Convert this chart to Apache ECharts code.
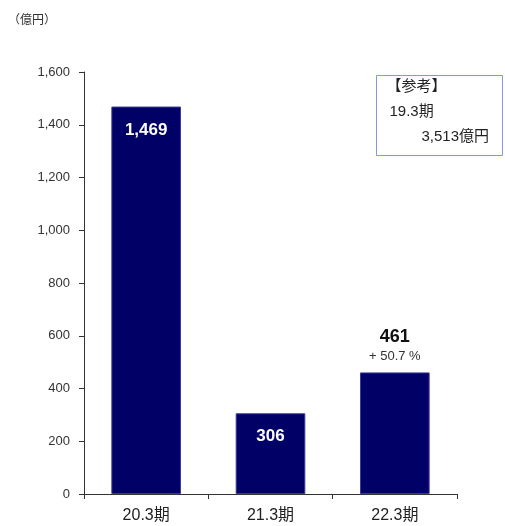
<!DOCTYPE html>
<html>
<head>
<meta charset="utf-8">
<script src="https://cdn.jsdelivr.net/npm/echarts@6/dist/echarts.min.js"></script>
<style>
  html, body { margin: 0; padding: 0; background: #ffffff; }
  #chart { width: 505px; height: 526px; }
</style>
</head>
<body>
<div id="chart"></div>
<script>
// Fiscal periods and values (億円)
const periods = ['20.3期', '21.3期', '22.3期'];
const values = [1469, 306, 461];
const growthNotes = ['', '', '+ 50.7 %'];
const yTicks = [0, 200, 400, 600, 800, 1000, 1200, 1400, 1600];
const referenceLines = ['【参考】', '19.3期', '3,513億円'];

const FONT = '"Liberation Sans", Arial, "Noto Sans CJK JP", sans-serif';
const fmt = v => v.toLocaleString('en-US');

const chart = echarts.init(document.getElementById('chart'), null, { renderer: 'canvas' });

const barData = values.map((v, i) => {
  const outside = i === values.length - 1;
  return {
    value: v,
    label: outside ? {
      show: true,
      position: 'top',
      distance: 7,
      formatter: () => '{v|' + fmt(v) + '}\n{g|' + growthNotes[i] + '}',
      rich: {
        v: { fontSize: 18, fontWeight: 'bold', color: '#111', fontFamily: FONT, lineHeight: 22 },
        g: { fontSize: 13, color: '#333', fontFamily: FONT, lineHeight: 17 }
      }
    } : {
      show: true,
      position: 'insideTop',
      distance: 15,
      formatter: () => fmt(v),
      fontSize: 17,
      fontWeight: 'bold',
      color: '#ffffff',
      fontFamily: FONT
    }
  };
});

chart.setOption({
  animation: false,
  backgroundColor: '#ffffff',
  grid: { left: 84, right: 48, top: 72, bottom: 32, containLabel: false },
  xAxis: {
    type: 'category',
    data: periods,
    axisLine: { show: true, lineStyle: { color: '#333', width: 1 } },
    axisTick: { show: true, alignWithLabel: false, length: 5, lineStyle: { color: '#333' } },
    axisLabel: { color: '#222', fontSize: 16, fontFamily: FONT, margin: 14 }
  },
  yAxis: {
    type: 'value',
    min: yTicks[0],
    max: yTicks[yTicks.length - 1],
    interval: yTicks[1] - yTicks[0],
    axisLine: { show: true, lineStyle: { color: '#333', width: 1 } },
    axisTick: { show: true, length: 5, lineStyle: { color: '#333' } },
    splitLine: { show: false },
    axisLabel: {
      color: '#333', fontSize: 13, fontFamily: FONT, margin: 14,
      formatter: v => fmt(v)
    }
  },
  series: [{
    type: 'bar',
    data: barData,
    barWidth: '56%',
    itemStyle: { color: '#000066', borderColor: '#3a3a9a', borderWidth: 1 }
  }],
  graphic: [
    {
      type: 'text',
      left: 8, top: 15,
      style: { text: '（億円）', font: '12px ' + FONT, fill: '#333' }
    },
    {
      type: 'group',
      left: 376, top: 75,
      children: [
        {
          type: 'rect',
          shape: { x: 0, y: 0, width: 126, height: 80 },
          style: { fill: '#ffffff', stroke: '#7f9be0', lineWidth: 1 }
        },
        {
          type: 'text', x: 10, y: 4,
          style: { text: referenceLines[0], font: '15px ' + FONT, fill: '#222' }
        },
        {
          type: 'text', x: 13, y: 29,
          style: { text: referenceLines[1], font: '15px ' + FONT, fill: '#222' }
        },
        {
          type: 'text', x: 45, y: 54,
          style: { text: referenceLines[2], font: '15px ' + FONT, fill: '#222' }
        }
      ]
    }
  ]
});
</script>
</body>
</html>
